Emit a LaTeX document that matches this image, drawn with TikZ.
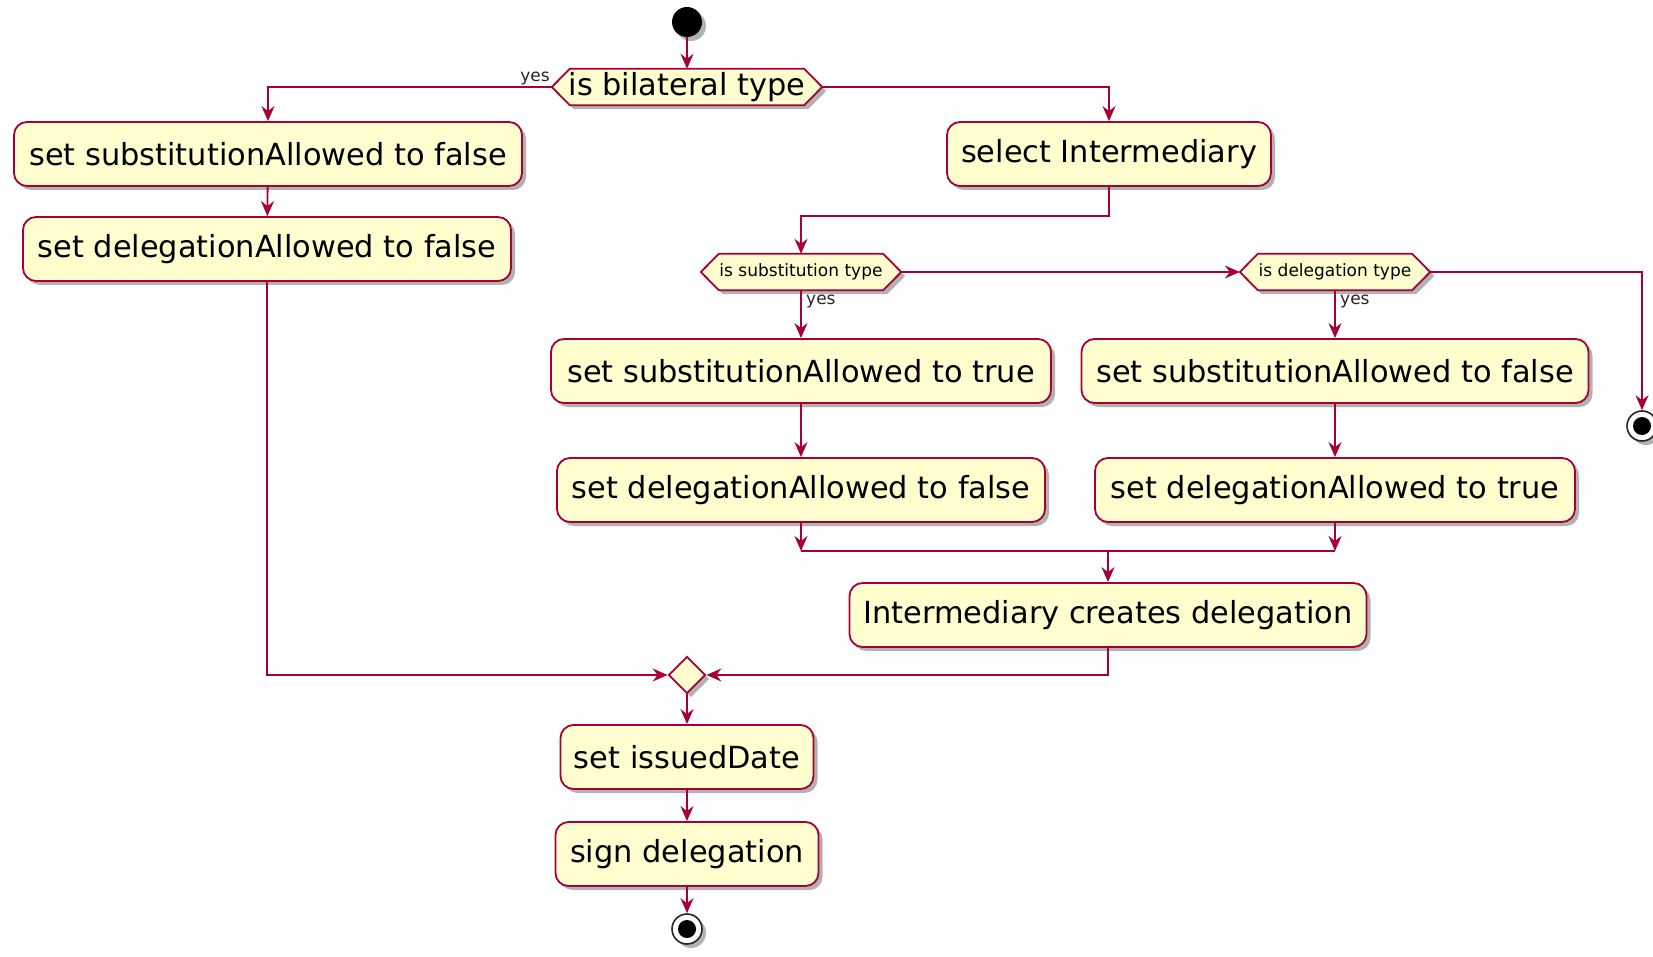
\documentclass[tikz,border=0pt]{standalone}
\usepackage{fontspec}
\setmainfont{DejaVu Sans}
\usetikzlibrary{arrows.meta,shadows,shapes.geometric}
\pgfdeclarelayer{background}
\pgfsetlayers{background,main}
\definecolor{umlborder}{HTML}{A80036}
\definecolor{umlfill}{HTML}{FEFECE}
\tikzset{
  umlshadow/.style={drop shadow={shadow xshift=4pt,shadow yshift=-4pt,opacity=0.3,fill=black}},
  action/.style={rectangle,rounded corners=13pt,draw=umlborder,fill=umlfill,line width=1.8pt,
    minimum height=64pt,inner sep=0pt,font=\fontsize{30.4}{36}\selectfont,umlshadow},
  hexlabel/.style={rectangle,minimum height=36pt,inner sep=0pt},
  hexshape/.style={draw=umlborder,fill=umlfill,line width=1.8pt,umlshadow},
  bigtext/.style={font=\fontsize{30.4}{36}\selectfont},
  smalltext/.style={font=\fontsize{17}{20}\selectfont},
  merge/.style={diamond,aspect=1,minimum size=37pt,inner sep=0pt,draw=umlborder,fill=umlfill,line width=1.8pt,umlshadow},
  startdot/.style={circle,fill=black,minimum size=30pt,inner sep=0pt,umlshadow},
  stopdot/.style={circle,draw=black!85,fill=white,line width=1.6pt,minimum size=30pt,inner sep=0pt,umlshadow,
    path picture={\fill[black] (path picture bounding box.center) circle (9pt);}},
  flow/.style={draw=umlborder,line width=1.8pt},
  arr/.style={flow,-{Stealth[length=15pt,width=13pt,inset=5pt]}},
  guard/.style={smalltext,inner sep=0pt,text=black!85},
}
\begin{document}
\begin{tikzpicture}[x=1pt,y=-1pt]
\useasboundingbox (0,0) rectangle (1653,957);
\clip (0,0) rectangle (1653,957);

% start
\node[startdot] (start) at (687,22) {};

% first decision
\node[hexlabel,minimum width=270pt,bigtext] (hexA) at (687,87) {is bilateral type};
\node[guard,anchor=east] (yesA) at (550,79) {yes};

% bilateral branch
\node[action,minimum width=508pt] (subF) at (268,154) {set substitutionAllowed to false};
\node[action,minimum width=488pt] (delF) at (267,249) {set delegationAllowed to false};

% intermediary branch
\node[action,minimum width=324pt] (selInt) at (1109,154) {select Intermediary};
\node[hexlabel,minimum width=200pt,smalltext] (hexB) at (801,272) {is substitution type};
\node[hexlabel,minimum width=190pt,smalltext] (hexC) at (1335,272) {is delegation type};
\node[guard,anchor=west] (yesB) at (806,302) {yes};
\node[guard,anchor=west] (yesC) at (1340,302) {yes};
\node[stopdot] (stopR) at (1642,426) {};

\node[action,minimum width=500pt] (subT) at (801,371) {set substitutionAllowed to true};
\node[action,minimum width=488pt] (delF2) at (801,490) {set delegationAllowed to false};
\node[action,minimum width=507pt] (subF2) at (1335,371) {set substitutionAllowed to false};
\node[action,minimum width=480pt] (delT) at (1335,490) {set delegationAllowed to true};
\node[action,minimum width=517pt] (creates) at (1108,615) {Intermediary creates delegation};

% join and final actions
\node[merge] (join) at (687,675) {};
\node[action,minimum width=253pt] (issued) at (687,757) {set issuedDate};
\node[action,minimum width=263pt] (sign) at (687,854) {sign delegation};
\node[stopdot] (stop) at (687,929) {};

% decision outlines, behind their labels
\begin{pgfonlayer}{background}
\foreach \h in {hexA,hexB,hexC}
  \path[hexshape] (\h.west) -- ([xshift=18pt]\h.north west) -- ([xshift=-18pt]\h.north east)
    -- (\h.east) -- ([xshift=-18pt]\h.south east) -- ([xshift=18pt]\h.south west) -- cycle;
\end{pgfonlayer}

% connectors
\draw[arr] (start) -- (hexA.north);
\draw[arr] (hexA.west) -| (subF.north);
\draw[arr] (subF) -- (delF);
\draw[arr] (delF.south) |- (join.west);
\draw[arr] (hexA.east) -| (selInt.north);
\draw[arr] (selInt.south) -- ++(0,29) -| (hexB.north);
\draw[arr] (hexB.east) -- (hexC.west);
\draw[arr] (hexC.east) -| (stopR.north);
\draw[arr] (hexB.south) -- (subT.north);
\draw[arr] (hexC.south) -- (subF2.north);
\draw[arr] (subT) -- (delF2);
\draw[arr] (subF2) -- (delT);

\coordinate (mL) at (801,551);
\coordinate (mR) at (1335,551);
\draw[arr] (delF2.south) -- (mL);
\draw[arr] (delT.south) -- (mR);
\draw[flow] (mL) -- (mR);
\draw[arr] (creates.north |- mL) -- (creates.north);
\draw[arr] (creates.south) |- (join.east);

\draw[arr] (join.south) -- (issued.north);
\draw[arr] (issued) -- (sign);
\draw[arr] (sign) -- (stop);
\end{tikzpicture}
\end{document}
